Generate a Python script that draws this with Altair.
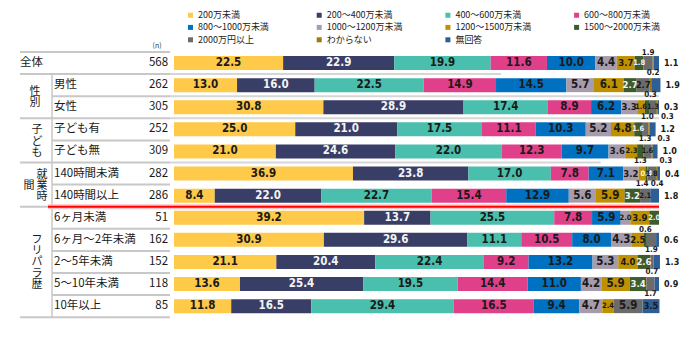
import altair as alt
import pandas as pd

# ---------------- data ----------------
cats = ["200万未満", "200〜400万未満", "400〜600万未満", "600〜800万未満",
        "800〜1000万未満", "1000〜1200万未満", "1200〜1500万未満", "1500〜2000万未満",
        "2000万円以上", "わからない", "無回答"]
colors = ["#FFC94A", "#393E66", "#4BBFAD", "#E0408A", "#0070C0", "#A79CAC",
          "#BF9000", "#3E5B2B", "#6B6B6B", "#9C7A10", "#2E5E96"]

rows = ["全体", "男性", "女性", "子ども有", "子ども無", "140時間未満", "140時間以上",
        "6ヶ月未満", "6ヶ月〜2年未満", "2〜5年未満", "5〜10年未満", "10年以上"]
n_vals = [568, 262, 305, 252, 309, 282, 286, 51, 162, 152, 118, 85]

v_all = [22.5, 22.9, 19.9, 11.6, 10.0, 4.4, 3.7, 1.8, 1.9, 0.2, 1.1]
v_male = [13.0, 16.0, 22.5, 14.9, 14.5, 5.7, 6.1, 2.7, 2.7, 0.3, 1.9]
v_female = [30.8, 28.9, 17.4, 8.9, 6.2, 3.3, 1.6, 1.0, 1.3, 0.3, 0.3]
v_kids_yes = [25.0, 21.0, 17.5, 11.1, 10.3, 5.2, 4.8, 1.6, 1.3, 0.3, 1.2]
v_kids_no = [21.0, 24.6, 22.0, 12.3, 9.7, 3.6, 2.3, 1.3, 1.6, 0.3, 1.0]
v_h_under = [36.9, 23.8, 17.0, 7.8, 7.1, 3.2, 1.4, 0.4, 1.8, 0.4, 0.4]
v_h_over = [8.4, 22.0, 22.7, 15.4, 12.9, 5.6, 5.9, 3.2, 2.1, 0.0, 1.8]
v_6m = [39.2, 13.7, 25.5, 7.8, 5.9, 2.0, 3.9, 2.0, 0.0, 0.0, 0.0]
v_6m_2y = [30.9, 29.6, 11.1, 10.5, 8.0, 4.3, 2.5, 0.6, 1.9, 0.0, 0.6]
v_2_5y = [21.1, 20.4, 22.4, 9.2, 13.2, 5.3, 4.0, 2.6, 0.7, 0.0, 1.3]
v_5_10y = [13.6, 25.4, 19.5, 14.4, 11.0, 4.2, 5.9, 3.4, 1.7, 0.0, 0.9]
v_10y = [11.8, 16.5, 29.4, 16.5, 9.4, 4.7, 2.4, 0.0, 5.9, 0.0, 3.5]

series = [v_all, v_male, v_female, v_kids_yes, v_kids_no, v_h_under, v_h_over,
          v_6m, v_6m_2y, v_2_5y, v_5_10y, v_10y]

# ---------------- layout ----------------
W = 485
STEP = 22.1
H = STEP * len(rows)
JP = "Noto Sans CJK JP"
NUMF = "DejaVu Sans Condensed, DejaVu Sans"
WHITE_TEXT = {"200〜400万未満", "1500〜2000万未満"}
GAP = 2.6  # minimal distance (in % units) between two outside labels in one lane

seg_recs, lab_recs = [], []
lanes = {}  # lane index -> x mids (above row i = lane i, below row i = lane i+1)


def free(lane, x):
    return all(abs(x - o) >= GAP for o in lanes.get(lane, []))


for ri, (r, vals) in enumerate(zip(rows, series)):
    cum = 0.0
    row_end = sum(vals)
    for c, v in zip(cats, vals):
        s, e = cum, cum + v
        cum = e
        if v <= 0:
            continue
        seg_recs.append({"row": r, "cat": c, "start": s, "end": e})
        mid = (s + e) / 2
        lx = mid
        outside = None
        if c == "無回答" and v < 3:
            place, lx = "right", e
        elif c == "わからない":
            outside = ["below", "above"]
        elif c == "2000万円以上" and v < 2:
            outside = ["above", "below"]
        elif c == "1500〜2000万未満" and v < 1.5:
            outside = ["above", "below"]
        elif v < 1.5:
            outside = ["below", "above"]
        elif v >= 4.1:
            place = "big"
        elif v >= 2.5:
            place = "mid"
        else:
            place = "small"
        if outside:
            place = None
            for slot in outside:
                lane = ri if slot == "above" else ri + 1
                if free(lane, mid):
                    lanes.setdefault(lane, []).append(mid)
                    place = slot
                    break
            if place is None:
                if c == "わからない":
                    place, lx = "belowright", row_end
                else:
                    place = "small"
        tc = "#F4F4F4" if (c in WHITE_TEXT and place in ("big", "mid", "small")) else "#1A1A1A"
        lab_recs.append({"row": r, "cat": c, "lx": lx, "txt": f"{v:.1f}",
                         "place": place, "tc": tc})
seg = pd.DataFrame(seg_recs)
labs = pd.DataFrame(lab_recs)
tbl = pd.DataFrame({"row": rows, "n": n_vals})

yscale = alt.Scale(domain=rows, paddingInner=0, paddingOuter=0)


def Y(band=None):
    if band is None:
        return alt.Y("row:N", scale=yscale, axis=None, sort=rows)
    return alt.Y("row:N", scale=yscale, axis=None, sort=rows, bandPosition=band)


xscale = alt.Scale(domain=[0, 100], nice=False, zero=True)

layers = []


def hrule(row, x1, x2, color, width, band=0):
    return alt.Chart(pd.DataFrame({"row": [row]})).mark_rule(
        color=color, strokeWidth=width).encode(
        x=alt.value(x1), x2=alt.value(x2), y=Y(band))


group_first = {"全体", "男性", "子ども有", "140時間未満", "6ヶ月未満"}
for r in rows:
    x1 = -154 if r in group_first else -122
    layers.append(hrule(r, x1, -4, "#C8C8C8", 2))
layers.append(hrule(rows[-1], -154, -4, "#C8C8C8", 2, band=1))

for r, frac in [("男性", 0.674), ("女性", 1.0), ("子ども有", 1.0), ("140時間未満", 0.88)]:
    layers.append(hrule(r, -4, W * frac, "#D6D6D6", 2))

for first, last in [("男性", "女性"), ("子ども有", "子ども無"),
                    ("140時間未満", "140時間以上"), ("6ヶ月未満", "10年以上")]:
    layers.append(alt.Chart(pd.DataFrame({"row": [first], "last": [last]})).mark_rule(
        color="#C8C8C8", strokeWidth=1.5).encode(
        x=alt.value(-122), y=Y(0),
        y2=alt.Y2("last:N", bandPosition=1)))

# ---- bars ----
bars = alt.Chart(seg).mark_bar(height={"band": 14 / STEP}).encode(
    x=alt.X("start:Q", scale=xscale, axis=None),
    x2="end:Q",
    y=Y(),
    color=alt.Color("cat:N", scale=alt.Scale(domain=cats, range=colors),
                    legend=alt.Legend(
                        title=None, orient="none", legendX=12, legendY=-41.5,
                        direction="horizontal", columns=4, gridAlign="all",
                        columnPadding=40.7, rowPadding=2.4, symbolType="square",
                        symbolSize=25, symbolStrokeWidth=0, labelFont=JP,
                        labelFontSize=9, labelOffset=3, labelColor="#222222",
                        padding=0, labelLimit=200)),
)
layers.append(bars)

layers.append(hrule("6ヶ月未満", -126, W, "#FFC4C4", 5))
layers.append(hrule("6ヶ月未満", -126, W, "#FF0000", 2))


def lab(place, size, dy=0, dx=0, align="center"):
    return alt.Chart(labs).transform_filter(alt.datum.place == place).mark_text(
        font=NUMF, fontWeight="bold", fontSize=size, dy=dy, dx=dx,
        align=align, baseline="middle").encode(
        x=alt.X("lx:Q", scale=xscale, axis=None), y=Y(), text="txt:N",
        color=alt.Color("tc:N", scale=None))


layers += [lab("big", 11.5), lab("mid", 9.5), lab("small", 7.5),
           lab("above", 8, dy=-10), lab("below", 8, dy=10),
           lab("belowright", 8, dy=10, dx=2, align="left"),
           lab("right", 9, dx=5, align="left")]

# ---- table text ----
layers.append(alt.Chart(tbl).transform_filter(alt.datum.row == "全体").mark_text(
    font=JP, fontSize=11.5, align="left", baseline="middle", color="#1A1A1A").encode(
    x=alt.value(-154), y=Y(), text="row:N"))
layers.append(alt.Chart(tbl).transform_filter(alt.datum.row != "全体").mark_text(
    font=JP, fontSize=11.5, align="left", baseline="middle", color="#1A1A1A").encode(
    x=alt.value(-120), y=Y(), text="row:N"))
layers.append(alt.Chart(tbl).mark_text(
    font=JP, fontSize=11.5, align="right", baseline="middle", color="#1A1A1A").encode(
    x=alt.value(-6), y=Y(), text="n:Q"))

# vertical group captions, one character per text mark
LH = 11.4
for word, anchor, gx, center in [("性別", "男性", -139, STEP / 2 + 1.5),
                                 ("子ども", "子ども有", -137, STEP / 2 + 1.5),
                                 ("就業時", "140時間未満", -132, STEP / 2 + 1.5),
                                 ("間", "140時間未満", -145, STEP / 2 + 1.5),
                                 ("フリパラ歴", "2〜5年未満", -137, 0.5)]:
    n = len(word)
    for i, ch in enumerate(word):
        layers.append(alt.Chart(pd.DataFrame({"row": [anchor], "t": [ch]})).mark_text(
            font=JP, fontSize=11, align="center", baseline="middle",
            dy=center + (i - (n - 1) / 2) * LH, color="#1A1A1A").encode(
            x=alt.value(gx), y=Y(), text="t:N"))

layers.append(alt.Chart(tbl.head(1)).mark_text(
    font=JP, fontSize=7, align="center", baseline="middle", color="#333333").encode(
    x=alt.value(-17), y=alt.value(-6), text=alt.value("(n)")))

chart = alt.layer(*layers).resolve_scale(color="independent").properties(
    width=W, height=H,
    padding={"left": 174, "top": 52, "right": 41, "bottom": 23},
    autosize="none",
).configure_view(stroke=None)

chart.save("out.html", embed_options={"renderer": "svg", "actions": False})
